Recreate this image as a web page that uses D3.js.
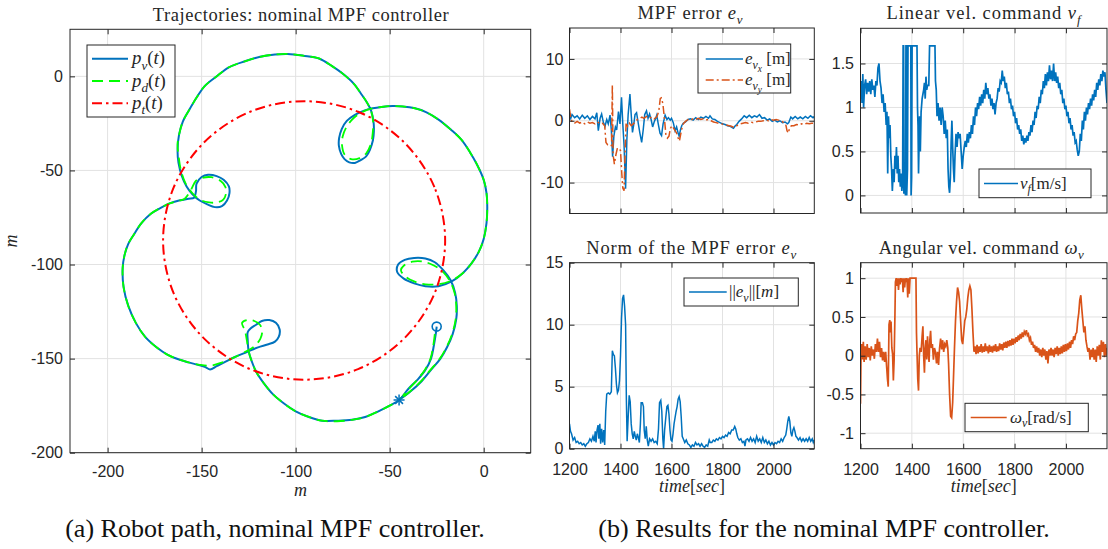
<!DOCTYPE html>
<html><head><meta charset="utf-8">
<script src="https://cdn.jsdelivr.net/npm/d3@7"></script>
<style>body{margin:0;background:#fff}svg{display:block}text{white-space:pre}</style>
</head><body>
<svg id="chart" width="1108" height="549"></svg>
<script>
// ---------------- DATA ----------------
// Robot path p_v(t) [x, y] in metres
const pathRobot = [
[-25,-133],[-25.5,-137],[-26.5,-143],[-28,-150],[-31,-156],[-35,-161],[-40,-166],[-45,-172],
[-50,-175],[-56,-178],[-63,-181],[-70,-182.5],[-78,-183],[-86,-183],[-93,-181],[-100,-178],[-106,-174],[-112,-169],[-117,-163],[-121,-157],[-123.5,-151],[-125,-146],[-125.5,-140],[-125.5,-136],[-124,-134],[-121,-132],[-118,-130],[-114,-129.5],[-110.5,-131],[-108.5,-134.5],[-109,-138.5],[-111,-141],[-115,-142.5],[-120,-144],[-126,-146.5],[-132,-149],[-138,-152],[-142,-154],[-145.5,-155.8],[-148,-154.5],[-152,-153.3],[-157,-152],[-162,-150.5],[-168,-148],[-174,-144],[-180,-138.5],[-185,-131],[-189,-122],[-191.5,-112],[-192,-102],[-191,-95],[-189,-89],[-186,-84],[-182,-78],[-177,-73],[-172,-70],[-167,-67.5],[-162,-66],[-157,-65],[-154,-64.5],[-153,-61],[-152.7,-57],[-150,-53.5],[-146.6,-52.3],[-142,-53],[-138.3,-55],[-135.5,-58.5],[-135.2,-62],[-136.5,-66],[-139.2,-69],[-143,-69.5],[-147,-68],[-151,-66],[-155,-62.5],[-158,-58.5],[-160.5,-53],[-162.3,-46],[-162.8,-39],[-162,-31],[-160,-24],[-156.7,-18],[-152.5,-11],[-148.5,-5.3],[-142,0],[-135.5,4.8],[-127,8],[-118.9,10.4],[-111,11.6],[-104.2,11.9],[-96,11],[-87.6,9.5],[-80,5],[-74.7,1.2],[-69,-4],[-65.4,-9],[-62,-14],[-59.9,-18.2],[-58.6,-24],[-58.4,-29.3],[-58.9,-34],[-60.5,-39],[-62.5,-42.5],[-65.4,-44.5],[-68.5,-46],[-71.5,-45.7],[-74,-44],[-75.8,-41.2],[-77,-37],[-76.9,-32.9],[-75.5,-28],[-72.8,-23.7],[-68.5,-20.5],[-63.6,-18.2],[-59,-17],[-54.4,-16.3],[-48.5,-15.8],[-43.3,-16],[-36.5,-17],[-30.4,-19.1],[-24,-23],[-17.5,-28.3],[-12,-33.5],[-7.3,-40.3],[-3.5,-47],[0,-55],[1.5,-62],[1.9,-69.8],[1.5,-78],[0,-86.4],[-2.5,-93],[-6.4,-99.3],[-11,-104.5],[-17,-109],[-24,-111.5],[-31,-111.5],[-37,-110],[-42.5,-107.5],[-46,-104],[-45.5,-100],[-42,-97.5],[-37,-96.5],[-31,-96.8],[-26,-98.8],[-21.5,-103],[-17.5,-108.5],[-15.2,-115],[-14.3,-122],[-14.6,-129],[-16.5,-137],[-19.5,-144],[-23,-150],[-28,-156],[-33,-162],[-39,-167.5],[-45,-172]
];
// Desired path p_d(t)
const pathDesired = [
[-26,-137],[-26.8,-143],[-28.3,-150],[-31.3,-156],[-35.3,-161.2],[-40.2,-166.5],[-45,-172],
[-50,-175],[-56,-178],[-63,-181],[-70,-182.5],[-78,-183.3],[-86,-183],[-93,-181],[-100,-178],[-106,-174],[-112,-169],[-117,-163],[-121,-157],[-123.5,-151],[-125,-146],[-126,-140],[-127,-135],[-128.5,-131],[-126,-129.5],[-122,-130],[-119,-132],[-117.8,-135.5],[-118.8,-139.5],[-122,-143.5],[-127,-146.5],[-133,-149.5],[-139,-152],[-145,-153.7],[-151,-153.3],[-157,-152],[-162,-150.5],[-168,-148],[-174,-144],[-180,-138.5],[-185,-131],[-189,-122],[-191.5,-112],[-192,-102],[-191,-95],[-189,-89],[-186,-84],[-182,-78],[-177,-73],[-172,-70],[-167,-67.5],[-162,-66],[-159,-65],[-155.5,-60],[-153,-55.5],[-149,-53.8],[-144.8,-53.6],[-140,-55.5],[-137.4,-58.7],[-137,-62],[-138.5,-65.5],[-142,-67],[-146,-67],[-151,-65.5],[-155,-62],[-158.5,-57],[-161,-50],[-162.3,-42],[-162.8,-36],[-162,-31],[-160,-24],[-156.7,-18],[-152.5,-11],[-148.5,-5.3],[-142,0],[-135.5,4.8],[-127,8],[-118.9,10.4],[-111,11.6],[-104.2,11.9],[-96,11],[-87.6,9.5],[-80,5],[-74.7,1.2],[-69,-4],[-65.4,-9],[-62,-14],[-59.9,-18.2],[-58.8,-24],[-59,-30],[-60,-36],[-62.5,-41],[-66,-43.5],[-70.5,-44],[-74,-41.5],[-75.3,-37],[-75,-32],[-73,-27],[-69,-22],[-63.6,-18.5],[-59,-17],[-54.4,-16.3],[-48.5,-15.8],[-43.3,-16],[-36.5,-17],[-30.4,-19.1],[-24,-23],[-17.5,-28.3],[-12,-33.5],[-7.3,-40.3],[-3.5,-47],[0,-55],[1.5,-62],[1.9,-69.8],[1.5,-78],[0,-86.4],[-2.5,-93],[-6.4,-99.3],[-11,-104.5],[-17,-108.5],[-24,-110.5],[-31,-110.5],[-37,-109],[-41.5,-106.5],[-44,-103],[-42.4,-100.5],[-38,-98.5],[-32.3,-98.4],[-26.5,-100.5],[-21.5,-104],[-17.8,-109],[-15.5,-115],[-14.6,-122],[-14.9,-129],[-16.8,-137],[-19.8,-144],[-23.3,-150],[-28.3,-156],[-33.3,-162],[-39.2,-167.5],[-45,-172]
];
// Target path p_t(t) (closed)
const pathTarget = [
[-20.5,-87.2],[-26.2,-58.9],[-42.5,-34.9],[-66.8,-18.8],[-95.5,-13.2],[-124.2,-18.8],[-148.5,-34.9],[-164.8,-58.9],
[-170.5,-87.2],[-164.8,-115.5],[-148.5,-139.5],[-124.2,-155.6],[-95.5,-161.2],[-66.8,-155.6],[-42.5,-139.5],[-26.2,-115.5]
];
const startPoint = [-25,-133];
const endPoint = [-45,-172];

// MPF error components [time s, value m]
const errVx = [[1200,1.2],[1205,0.4],[1210,1.0],[1220,0.5],[1230,0.8],[1240,0.3],[1250,0.9],[1260,0.4],[1270,0.8],[1280,0.2],[1290,0.7],[1300,0.3],[1307,1.3],[1313,-1.6],[1320,0.4],[1326,1.1],[1333,-0.3],[1339,-0.9],[1346,0.2],[1352,-0.5],[1359,0.9],[1364,-1.5],[1369,-5.8],[1374,-2.5],[1380,-1.0],[1385,-1.5],[1392,1.5],[1398,-0.5],[1404,3.8],[1409,-0.5],[1414,-4],[1420,-11],[1425,-3],[1430,1.0],[1437,4.3],[1442,1.0],[1447,-1.9],[1452,-0.6],[1457,1.0],[1463,1.3],[1470,-0.5],[1476,-2.0],[1483,-3.5],[1489,-1.5],[1495,1.0],[1502,1.6],[1508,0.4],[1514,1.1],[1520,0.2],[1526,-1.0],[1532,-0.2],[1537,0.3],[1542,0.9],[1548,-0.5],[1555,-2.0],[1561,-2.4],[1567,-0.5],[1575,0.9],[1582,0.2],[1588,0.5],[1595,0.1],[1600,0.4],[1607,-0.3],[1614,-1.6],[1620,-1.0],[1626,-2.0],[1630,-2.5],[1635,-1.5],[1640,-0.8],[1646,-0.4],[1655,-0.2],[1665,0.2],[1675,0.3],[1685,0.1],[1695,0.5],[1705,0.2],[1715,0.6],[1725,0.4],[1735,0.7],[1745,0.4],[1751,0.8],[1760,0.3],[1770,0.2],[1780,-0.1],[1790,-0.3],[1800,-0.5],[1810,-0.6],[1820,-0.8],[1830,-0.9],[1843,-1.2],[1850,-0.8],[1856,-0.6],[1865,-0.1],[1875,0.3],[1885,0.8],[1895,0.5],[1905,0.9],[1915,0.5],[1925,0.8],[1935,0.6],[1945,1.0],[1955,0.4],[1965,0.5],[1975,0.1],[1985,0.3],[1995,-0.1],[2005,0.1],[2015,-0.2],[2025,0.0],[2035,-0.3],[2045,-0.2],[2055,-0.5],[2060,-0.3],[2068,0.6],[2075,0.3],[2085,0.7],[2095,0.3],[2105,0.6],[2115,0.3],[2125,0.7],[2135,0.4],[2145,0.8],[2155,0.5],[2160,0.7]];
const errVy = [[1200,1.9],[1205,0.5],[1210,-0.2],[1220,-0.4],[1230,-0.1],[1240,-0.4],[1250,-0.2],[1260,-0.5],[1270,-0.2],[1280,-0.4],[1290,-0.3],[1300,-0.5],[1310,-0.2],[1320,-0.5],[1330,-0.4],[1338,-0.8],[1343,-3.5],[1350,-3.9],[1359,-4.1],[1365,-4.0],[1368,5.8],[1371,-5.5],[1376,-7.0],[1382,-5.5],[1388,-4.4],[1394,-4.5],[1400,-4.8],[1405,-8.5],[1409,-10.9],[1414,-11.3],[1418,-5],[1422,-0.3],[1428,-0.9],[1435,-0.4],[1442,-0.8],[1450,-0.5],[1458,-0.2],[1466,0.2],[1475,0.3],[1484,0.6],[1492,0.4],[1502,0.7],[1512,0.4],[1522,0.6],[1532,0.3],[1542,0.6],[1550,1.5],[1556,3.6],[1560,3.7],[1566,2.8],[1572,0.5],[1578,-2.3],[1584,-2.8],[1590,-2.5],[1596,-1.2],[1602,-0.8],[1608,-1.2],[1614,-1.6],[1620,-2.0],[1626,-2.8],[1631,-3.3],[1636,-2.2],[1641,-1.2],[1646,-0.5],[1655,-0.1],[1665,0.2],[1675,0.1],[1685,0.3],[1695,0.2],[1705,0.4],[1715,0.2],[1725,0.3],[1735,0.1],[1745,0.2],[1755,0.0],[1765,-0.2],[1775,-0.3],[1785,-0.4],[1795,-0.5],[1805,-0.6],[1815,-0.7],[1825,-0.8],[1835,-0.9],[1845,-1.1],[1852,-0.9],[1860,-0.7],[1870,-0.5],[1880,-0.4],[1890,-0.3],[1900,-0.4],[1910,-0.2],[1920,-0.3],[1930,-0.2],[1940,-0.1],[1950,-0.1],[1960,0.0],[1970,0.1],[1980,0.0],[1990,0.2],[2000,0.1],[2010,0.2],[2020,0.1],[2030,0.0],[2040,-0.3],[2048,-0.6],[2053,-1.6],[2058,-2.0],[2063,-1.2],[2070,-0.8],[2080,-0.8],[2090,-0.6],[2100,-0.7],[2110,-0.5],[2120,-0.6],[2130,-0.4],[2140,-0.5],[2150,-0.4],[2160,-0.4]];
// Norm of the MPF error
const errNorm = [[1200,2.0],[1204,1.4],[1208,1.2],[1214,0.7],[1220,0.9],[1226,0.5],[1232,0.6],[1238,0.4],[1244,0.5],[1250,0.3],[1256,0.4],[1262,0.2],[1268,0.4],[1274,0.5],[1280,0.8],[1286,0.6],[1292,1.0],[1297,0.6],[1301,1.4],[1304,0.5],[1308,1.5],[1312,1.9],[1315,0.8],[1319,2.0],[1322,0.4],[1326,1.6],[1330,0.5],[1334,1.5],[1338,0.3],[1342,3.0],[1346,4.4],[1352,4.5],[1358,4.4],[1364,4.6],[1368,7.9],[1372,7.6],[1376,7.5],[1380,6.5],[1384,5.2],[1388,4.5],[1392,4.7],[1396,5.5],[1400,7.5],[1404,10.5],[1408,12.1],[1412,12.4],[1416,11.5],[1420,10],[1423,4],[1426,0.6],[1430,2.5],[1434,4.3],[1438,3.8],[1442,2.0],[1446,1.2],[1450,0.8],[1454,1.4],[1458,1.0],[1462,0.7],[1466,1.2],[1470,0.9],[1474,0.5],[1478,2.0],[1481,3.7],[1486,3.7],[1490,3.4],[1493,1.5],[1497,0.8],[1501,1.8],[1505,0.7],[1509,0.2],[1514,0.8],[1520,0.6],[1526,0.8],[1532,0.5],[1538,0.6],[1544,0.4],[1549,1.6],[1553,3.7],[1558,3.9],[1562,3.0],[1566,0.8],[1569,0.0],[1573,1.5],[1578,2.6],[1582,3.4],[1586,3.5],[1590,2.8],[1594,1.5],[1598,0.7],[1602,0.6],[1606,1.2],[1610,2.0],[1614,2.5],[1618,3.0],[1622,3.4],[1626,4.0],[1630,4.2],[1634,3.8],[1638,2.6],[1642,1.0],[1646,0.8],[1652,0.5],[1658,0.7],[1664,0.4],[1670,0.3],[1676,0.1],[1682,0.3],[1688,0.2],[1694,0.5],[1700,0.3],[1706,0.4],[1712,0.2],[1718,0.4],[1724,0.2],[1730,0.1],[1736,0.3],[1742,0.2],[1748,0.7],[1752,0.5],[1758,0.5],[1764,0.7],[1770,0.6],[1776,0.8],[1782,0.7],[1788,0.9],[1794,0.8],[1800,1.0],[1806,0.9],[1812,1.1],[1818,1.0],[1824,1.3],[1830,1.2],[1836,1.5],[1842,1.5],[1848,1.8],[1852,1.6],[1856,1.2],[1860,0.9],[1866,0.7],[1872,0.8],[1878,0.5],[1884,0.6],[1888,0.2],[1892,0.7],[1898,0.8],[1904,0.6],[1910,0.9],[1916,0.6],[1922,0.8],[1928,0.5],[1934,1.0],[1940,0.6],[1946,0.8],[1952,0.5],[1958,0.9],[1964,0.5],[1970,0.7],[1976,0.4],[1982,0.6],[1988,0.3],[1994,0.5],[2000,0.3],[2006,0.5],[2012,0.4],[2018,0.6],[2024,0.5],[2030,0.8],[2036,0.6],[2042,0.9],[2048,1.1],[2052,1.6],[2056,2.2],[2060,2.6],[2064,2.2],[2068,1.3],[2072,1.0],[2076,1.5],[2080,1.7],[2084,1.4],[2088,1.0],[2092,0.9],[2098,0.7],[2104,0.9],[2110,0.6],[2116,0.8],[2122,0.6],[2128,0.8],[2134,0.6],[2140,0.9],[2146,0.6],[2152,0.8],[2156,0.5],[2160,0.7]];
// Linear velocity command v_f [m/s]
const velLinear = [[1200,1.15],[1203,1.3],[1206,1.05],[1209,1.38],[1212,1.0],[1216,1.25],[1220,1.32],[1224,1.15],[1228,1.28],[1232,1.18],[1236,1.3],[1240,1.15],[1244,1.32],[1248,1.2],[1252,1.25],[1256,1.12],[1260,1.3],[1264,1.25],[1268,1.45],[1272,1.5],[1276,1.3],[1280,1.22],[1284,1.05],[1288,1.15],[1292,0.95],[1296,1.05],[1300,0.8],[1303,0.95],[1306,0.25],[1309,0.9],[1312,0.65],[1315,0.8],[1318,0.45],[1321,0.3],[1324,0.05],[1328,0.3],[1331,0.15],[1334,0.45],[1337,0.3],[1340,0.55],[1343,0.25],[1346,0.45],[1349,0.15],[1352,0.3],[1355,0.1],[1358,0.25],[1361,0.05],[1364,0.15],[1366,1.7],[1368,1.7],[1369,0.02],[1372,0.2],[1375,0.0],[1377,1.7],[1379,1.7],[1380,0.0],[1383,0.3],[1385,1.7],[1396,1.7],[1397,0.0],[1399,0.2],[1401,1.7],[1420,1.7],[1422,1.0],[1424,0.8],[1426,0.25],[1430,0.9],[1433,0.5],[1436,0.95],[1440,1.1],[1443,1.15],[1446,1.2],[1449,1.28],[1452,1.1],[1455,1.35],[1458,1.2],[1461,1.25],[1466,1.25],[1469,1.7],[1490,1.7],[1492,1.3],[1495,1.2],[1498,0.9],[1502,1.05],[1506,0.85],[1510,1.0],[1514,0.8],[1518,1.0],[1522,0.9],[1526,0.7],[1530,0.85],[1534,0.65],[1538,0.75],[1541,0.3],[1544,0.1],[1547,0.03],[1550,0.2],[1553,0.6],[1556,0.85],[1559,0.55],[1562,0.3],[1565,0.15],[1568,0.45],[1572,0.7],[1576,0.55],[1580,0.72],[1584,0.65],[1588,0.7],[1592,0.5],[1596,0.3],[1600,0.45],[1604,0.55],[1608,0.62],[1612,0.55],[1616,0.7],[1620,0.6],[1624,0.72],[1628,0.65],[1632,0.8],[1636,0.7],[1640,0.9],[1644,0.8],[1648,1.0],[1652,0.9],[1656,1.05],[1660,0.98],[1664,1.12],[1668,1.02],[1672,1.15],[1676,1.05],[1680,1.2],[1684,1.1],[1688,1.28],[1692,1.15],[1696,1.22],[1700,1.1],[1704,1.15],[1708,1.02],[1712,1.1],[1716,0.98],[1720,1.05],[1724,0.92],[1728,1.05],[1732,1.1],[1736,1.22],[1740,1.18],[1744,1.3],[1748,1.28],[1752,1.42],[1756,1.3],[1760,1.35],[1764,1.22],[1768,1.28],[1772,1.15],[1776,1.18],[1780,1.05],[1784,1.1],[1788,0.98],[1792,1.02],[1796,0.9],[1800,0.95],[1804,0.82],[1808,0.88],[1812,0.75],[1816,0.8],[1820,0.7],[1824,0.75],[1828,0.62],[1832,0.68],[1836,0.58],[1840,0.65],[1844,0.6],[1848,0.68],[1852,0.62],[1856,0.72],[1860,0.68],[1864,0.8],[1868,0.72],[1872,0.85],[1876,0.8],[1880,0.95],[1884,0.88],[1888,1.02],[1892,0.98],[1896,1.12],[1900,1.05],[1904,1.2],[1908,1.15],[1912,1.3],[1916,1.22],[1920,1.38],[1924,1.25],[1928,1.4],[1932,1.3],[1936,1.48],[1940,1.32],[1944,1.42],[1948,1.3],[1952,1.5],[1956,1.3],[1960,1.4],[1964,1.28],[1968,1.35],[1972,1.22],[1976,1.28],[1980,1.15],[1984,1.2],[1988,1.05],[1992,1.1],[1996,0.98],[2000,1.02],[2004,0.9],[2008,0.95],[2012,0.82],[2016,0.88],[2020,0.75],[2024,0.8],[2028,0.68],[2032,0.72],[2036,0.6],[2040,0.62],[2044,0.52],[2048,0.45],[2052,0.5],[2056,0.7],[2060,0.62],[2064,0.85],[2068,0.75],[2072,0.95],[2076,0.85],[2080,1.0],[2084,0.92],[2088,1.05],[2092,0.98],[2096,1.1],[2100,1.02],[2104,1.15],[2108,1.08],[2112,1.2],[2116,1.12],[2120,1.28],[2124,1.2],[2128,1.32],[2132,1.25],[2136,1.38],[2140,1.3],[2144,1.42],[2148,1.35],[2152,1.4],[2156,1.2],[2160,1.05]];
// Angular velocity command omega_v [rad/s]
const velAngular = [[1200,-0.62],[1202,0.0],[1205,0.15],[1208,-0.05],[1211,0.18],[1214,-0.08],[1218,0.12],[1222,-0.05],[1226,0.15],[1230,-0.02],[1234,0.1],[1238,-0.06],[1242,0.12],[1246,0.0],[1250,0.08],[1254,-0.04],[1258,0.15],[1262,0.05],[1266,0.22],[1270,0.05],[1274,0.18],[1278,-0.02],[1282,0.1],[1286,-0.06],[1290,0.05],[1294,-0.08],[1298,0.05],[1302,-0.15],[1305,-0.3],[1308,-0.4],[1311,0.4],[1314,0.46],[1317,0.3],[1319,0.44],[1322,0.1],[1325,0.02],[1328,-0.32],[1331,-0.05],[1334,0.5],[1336,0.95],[1339,1.0],[1342,0.9],[1345,1.0],[1348,0.85],[1351,1.0],[1354,0.92],[1357,1.0],[1360,0.95],[1363,1.0],[1366,0.82],[1369,1.0],[1372,0.88],[1375,1.0],[1378,0.95],[1381,1.0],[1384,0.75],[1387,1.0],[1390,0.8],[1393,1.0],[1400,1.0],[1410,1.0],[1416,1.0],[1418,0.3],[1420,0.05],[1423,-0.3],[1426,-0.45],[1429,0.0],[1432,0.1],[1436,0.05],[1440,0.25],[1443,0.38],[1446,0.0],[1449,-0.22],[1452,0.1],[1455,0.2],[1458,-0.05],[1461,0.25],[1464,0.05],[1467,-0.08],[1470,0.2],[1473,0.32],[1476,0.1],[1480,0.15],[1484,-0.05],[1488,0.1],[1492,0.05],[1496,-0.1],[1500,0.05],[1504,-0.12],[1508,0.1],[1512,0.22],[1516,0.08],[1520,0.2],[1524,0.05],[1528,0.15],[1532,0.12],[1536,0.2],[1540,0.1],[1543,-0.1],[1547,-0.5],[1551,-0.78],[1555,-0.8],[1559,-0.6],[1562,-0.3],[1566,0.1],[1570,0.45],[1574,0.7],[1578,0.88],[1582,0.82],[1586,0.7],[1590,0.45],[1594,0.2],[1598,0.15],[1602,0.3],[1606,0.45],[1610,0.5],[1614,0.6],[1618,0.75],[1622,0.85],[1626,0.9],[1630,0.85],[1634,0.6],[1638,0.3],[1642,0.05],[1646,0.12],[1650,0.02],[1654,0.14],[1658,0.03],[1662,0.12],[1666,0.05],[1670,0.15],[1674,0.04],[1678,0.12],[1682,0.05],[1686,0.16],[1690,0.06],[1694,0.12],[1698,0.03],[1702,0.14],[1706,0.05],[1710,0.12],[1714,0.04],[1718,0.13],[1722,0.06],[1726,0.15],[1730,0.05],[1734,0.12],[1738,0.06],[1742,0.16],[1746,0.08],[1750,0.15],[1754,0.07],[1758,0.17],[1762,0.1],[1766,0.18],[1770,0.1],[1774,0.19],[1778,0.12],[1782,0.2],[1786,0.13],[1790,0.22],[1794,0.14],[1798,0.22],[1802,0.16],[1806,0.24],[1810,0.18],[1814,0.26],[1818,0.2],[1822,0.28],[1826,0.22],[1830,0.3],[1834,0.24],[1838,0.31],[1842,0.28],[1846,0.33],[1850,0.26],[1854,0.28],[1858,0.2],[1862,0.23],[1866,0.14],[1870,0.18],[1874,0.1],[1878,0.14],[1882,0.05],[1886,0.12],[1890,0.04],[1894,0.1],[1898,0.0],[1902,0.08],[1906,-0.02],[1910,0.1],[1914,0.0],[1918,0.08],[1922,-0.05],[1926,0.06],[1930,-0.1],[1934,0.08],[1938,0.0],[1942,0.1],[1946,0.0],[1950,0.08],[1954,-0.02],[1958,0.1],[1962,0.02],[1966,0.12],[1970,0.0],[1974,0.1],[1978,0.02],[1982,0.12],[1986,0.03],[1990,0.14],[1994,0.05],[1998,0.15],[2002,0.06],[2006,0.16],[2010,0.08],[2014,0.18],[2018,0.1],[2022,0.2],[2026,0.15],[2030,0.25],[2034,0.2],[2038,0.28],[2042,0.3],[2046,0.45],[2050,0.55],[2054,0.72],[2058,0.78],[2062,0.6],[2066,0.45],[2070,0.3],[2074,0.38],[2078,0.2],[2082,0.12],[2086,0.05],[2090,0.1],[2094,-0.05],[2098,0.08],[2102,-0.02],[2106,0.1],[2110,-0.05],[2114,0.08],[2118,-0.08],[2122,0.12],[2126,0.0],[2130,0.14],[2134,-0.05],[2138,0.2],[2142,0.05],[2146,0.18],[2150,-0.02],[2154,0.15],[2158,0.0],[2160,0.1]];

// Ticks
const trajTicksX = [-200,-150,-100,-50,0];
const trajTicksY = [-200,-150,-100,-50,0];
const timeTicks = [1200,1400,1600,1800,2000];
const errTicks = [-10,0,10];
const normTicks = [0,5,10,15];
const vfTicks = [0,0.5,1,1.5];
const wTicks = [-1,-0.5,0,0.5,1];

// ---------------- STYLE ----------------
const SANS = "'Liberation Sans', Arial, Helvetica, sans-serif";
const SERIF = "'Liberation Serif', 'Times New Roman', serif";
const TXT = "#262626";
const GRID = "#e2e2e2";
const BLUE = "#0072BD", ORANGE = "#D95319", GREEN = "#00FF00", RED = "#FF0000";

const svg = d3.select('#chart');
let clipId = 0;

function mathText(parent, x, y, parts, size, anchor) {
  const t = parent.append('text').attr('x', x).attr('y', y)
    .attr('text-anchor', anchor || 'start')
    .style('font-family', SERIF).style('font-size', size + 'px').attr('fill', TXT);
  let cur = 0;
  for (const p of parts) {
    const l = p.l || 0;
    const off = [0, 0.28 * size, 0.46 * size][l];
    const fs = [1, 0.7, 0.55][l] * size;
    t.append('tspan').attr('dy', (off - cur).toFixed(2))
      .style('font-size', fs + 'px').style('font-style', p.i ? 'italic' : 'normal').text(p.t);
    cur = off;
  }
  return t;
}
function fitWidth(t, target) {
  const w = t.node().getComputedTextLength();
  const n = t.text().length;
  if (n > 1) t.style('letter-spacing', ((target - w) / (n - 1)).toFixed(3) + 'px');
}

function panel(c) {
  const x = d3.scaleLinear().domain(c.xd).range([c.x0, c.x1]);
  const y = d3.scaleLinear().domain(c.yd).range([c.y1, c.y0]);
  const g = svg.append('g');
  g.append('g').selectAll('line').data(c.xt).join('line')
    .attr('x1', d => x(d)).attr('x2', d => x(d)).attr('y1', c.y0).attr('y2', c.y1)
    .attr('stroke', GRID).attr('stroke-width', 1);
  g.append('g').selectAll('line').data(c.yt).join('line')
    .attr('y1', d => y(d)).attr('y2', d => y(d)).attr('x1', c.x0).attr('x2', c.x1)
    .attr('stroke', GRID).attr('stroke-width', 1);
  const id = 'clip' + (clipId++);
  g.append('clipPath').attr('id', id).append('rect')
    .attr('x', c.x0).attr('y', c.y0).attr('width', c.x1 - c.x0).attr('height', c.y1 - c.y0);
  const data = g.append('g').attr('clip-path', `url(#${id})`);
  const over = svg.append('g');
  return {x, y, g, data, over, c};
}
function finishAxes(p) {
  const {x, y, over, c} = p;
  const fmt = d => String(d);
  const styleAx = sel => {
    sel.select('.domain').remove();
    sel.selectAll('.tick line').attr('stroke', TXT).attr('stroke-width', 1);
    sel.selectAll('.tick text').attr('fill', TXT).style('font-family', SANS).style('font-size', '16px');
  };
  over.append('g').attr('transform', `translate(0,${c.y1})`)
    .call(d3.axisBottom(x).tickValues(c.xt).tickSizeInner(-5).tickSizeOuter(0).tickPadding(c.xPad)
      .tickFormat(c.xLabels ? fmt : () => '')).call(styleAx);
  over.append('g').attr('transform', `translate(0,${c.y0})`)
    .call(d3.axisTop(x).tickValues(c.xt).tickSizeInner(-5).tickSizeOuter(0).tickFormat(() => '')).call(styleAx);
  over.append('g').attr('transform', `translate(${c.x0},0)`)
    .call(d3.axisLeft(y).tickValues(c.yt).tickSizeInner(-5).tickSizeOuter(0).tickPadding(c.yPad).tickFormat(fmt)).call(styleAx);
  over.append('g').attr('transform', `translate(${c.x1},0)`)
    .call(d3.axisRight(y).tickValues(c.yt).tickSizeInner(-5).tickSizeOuter(0).tickFormat(() => '')).call(styleAx);
  over.append('rect').attr('x', c.x0).attr('y', c.y0).attr('width', c.x1 - c.x0).attr('height', c.y1 - c.y0)
    .attr('fill', 'none').attr('stroke', TXT).attr('stroke-width', 1);
}
function legend(p, box, items, lx0, lx1, tx, size) {
  const g = svg.append('g');
  g.append('rect').attr('x', box[0]).attr('y', box[1]).attr('width', box[2]).attr('height', box[3])
    .attr('fill', '#fff').attr('stroke', TXT).attr('stroke-width', 1);
  for (const it of items) {
    g.append('line').attr('x1', lx0).attr('x2', lx1).attr('y1', it.y).attr('y2', it.y)
      .attr('stroke', it.color).attr('stroke-width', it.w || 1.5).attr('stroke-dasharray', it.dash || null);
    mathText(g, tx, it.y + size * 0.3, it.parts, size);
  }
}

// ---------------- LEFT PANEL: trajectories ----------------
const P0 = panel({x0: 70, x1: 530.7, y0: 29.3, y1: 452.7, xd: [-220, 25], yd: [-200, 25],
  xt: trajTicksX, yt: trajTicksY, xLabels: true, xPad: 12.5, yPad: 7});
const trajLine = d3.line().x(d => P0.x(d[0])).y(d => P0.y(d[1])).curve(d3.curveCatmullRom.alpha(0.5));
P0.data.append('path').attr('d', trajLine(pathRobot)).attr('fill', 'none').attr('stroke', BLUE).attr('stroke-width', 2);
P0.data.append('path').attr('d', trajLine(pathDesired)).attr('fill', 'none').attr('stroke', GREEN).attr('stroke-width', 1.8).attr('stroke-dasharray', '11,6');
const circLine = d3.line().x(d => P0.x(d[0])).y(d => P0.y(d[1])).curve(d3.curveCatmullRomClosed.alpha(0.5));
P0.data.append('path').attr('d', circLine(pathTarget)).attr('fill', 'none').attr('stroke', RED).attr('stroke-width', 2).attr('stroke-dasharray', '10,4,2.5,4');
P0.data.append('circle').attr('cx', P0.x(startPoint[0])).attr('cy', P0.y(startPoint[1])).attr('r', 4.5)
  .attr('fill', 'none').attr('stroke', BLUE).attr('stroke-width', 1.6);
{
  const cx = P0.x(endPoint[0]), cy = P0.y(endPoint[1]), r = 5.5;
  const star = P0.data.append('g').attr('stroke', BLUE).attr('stroke-width', 1.5);
  [0, 45, 90, 135].forEach(a => {
    const dx = r * Math.cos(a * Math.PI / 180), dy = r * Math.sin(a * Math.PI / 180);
    star.append('line').attr('x1', cx - dx).attr('y1', cy - dy).attr('x2', cx + dx).attr('y2', cy + dy);
  });
}
finishAxes(P0);
legend(P0, [87, 45, 88, 72], [
  {y: 58.7, color: BLUE, w: 2, parts: [{t: 'p', i: 1}, {t: 'v', i: 1, l: 1}, {t: '('}, {t: 't', i: 1}, {t: ')'}]},
  {y: 81, color: GREEN, w: 1.8, dash: '11,6', parts: [{t: 'p', i: 1}, {t: 'd', i: 1, l: 1}, {t: '('}, {t: 't', i: 1}, {t: ')'}]},
  {y: 103.3, color: RED, w: 2, dash: '10,4,2.5,4', parts: [{t: 'p', i: 1}, {t: 't', i: 1, l: 1}, {t: '('}, {t: 't', i: 1}, {t: ')'}]}
], 92, 128, 132, 18.8);
fitWidth(mathText(svg, 301, 21, [{t: 'Trajectories: nominal MPF controller'}], 18.5, 'middle'), 296);
mathText(svg, 300.4, 496, [{t: 'm', i: 1}], 18, 'middle');
mathText(svg, 0, 0, [{t: 'm', i: 1}], 18, 'middle').attr('transform', 'translate(17,241) rotate(-90)');

// ---------------- RIGHT PANELS ----------------
const tsLine = p => d3.line().x(d => p.x(d[0])).y(d => p.y(d[1]));
// Top-left: MPF error components
const P1 = panel({x0: 569.5, x1: 814.3, y0: 28, y1: 213.5, xd: [1200, 2160], yd: [-15, 15],
  xt: timeTicks, yt: errTicks, xLabels: false, xPad: 14.6, yPad: 6});
P1.data.append('path').attr('d', tsLine(P1)(errVx)).attr('fill', 'none').attr('stroke', BLUE).attr('stroke-width', 1.5);
P1.data.append('path').attr('d', tsLine(P1)(errVy)).attr('fill', 'none').attr('stroke', ORANGE).attr('stroke-width', 1.5).attr('stroke-dasharray', '8,3,2,3');
finishAxes(P1);
legend(P1, [698, 44, 92.7, 49], [
  {y: 59, color: BLUE, w: 1.5, parts: [{t: 'e', i: 1}, {t: 'v', i: 1, l: 1}, {t: 'x', i: 1, l: 2}, {t: ' [m]'}]},
  {y: 80, color: ORANGE, w: 1.5, dash: '8,3,2,3', parts: [{t: 'e', i: 1}, {t: 'v', i: 1, l: 1}, {t: 'y', i: 1, l: 2}, {t: ' [m]'}]}
], 705.7, 743, 745, 17);
fitWidth(mathText(svg, 690.5, 19, [{t: 'MPF error '}, {t: 'e', i: 1}, {t: 'v', i: 1, l: 1}], 18.5, 'middle'), 105);

// Top-right: linear velocity
const P2 = panel({x0: 860.5, x1: 1107, y0: 28.3, y1: 213, xd: [1200, 2160], yd: [-0.2, 1.9],
  xt: timeTicks, yt: vfTicks, xLabels: false, xPad: 14.6, yPad: 6.5});
P2.data.append('path').attr('d', tsLine(P2)(velLinear)).attr('fill', 'none').attr('stroke', BLUE).attr('stroke-width', 1.7);
finishAxes(P2);
legend(P2, [979, 169, 112, 28.7], [
  {y: 183.5, color: BLUE, w: 1.5, parts: [{t: 'v', i: 1}, {t: 'f', i: 1, l: 1}, {t: '[m/s]'}]}
], 984, 1018, 1020, 17);
fitWidth(mathText(svg, 984, 19, [{t: 'Linear vel. command '}, {t: 'v', i: 1}, {t: 'f', i: 1, l: 1}], 18.5, 'middle'), 194);

// Bottom-left: norm
const P3 = panel({x0: 569.5, x1: 814.3, y0: 262.7, y1: 448.7, xd: [1200, 2160], yd: [0, 15],
  xt: timeTicks, yt: normTicks, xLabels: true, xPad: 14.6, yPad: 6});
P3.data.append('path').attr('d', tsLine(P3)(errNorm)).attr('fill', 'none').attr('stroke', BLUE).attr('stroke-width', 1.5);
finishAxes(P3);
legend(P3, [684, 278, 114.3, 28], [
  {y: 292, color: BLUE, w: 1.5, parts: [{t: '||'}, {t: 'e', i: 1}, {t: 'v', i: 1, l: 1}, {t: '||['}, {t: 'm', i: 1}, {t: ']'}]}
], 689, 726.7, 729, 17);
fitWidth(mathText(svg, 691.7, 254, [{t: 'Norm of the MPF error '}, {t: 'e', i: 1}, {t: 'v', i: 1, l: 1}], 18.5, 'middle'), 210);
mathText(svg, 691.9, 492, [{t: 'time', i: 1}, {t: '['}, {t: 'sec', i: 1}, {t: ']'}], 18, 'middle');

// Bottom-right: angular velocity
const P4 = panel({x0: 860.5, x1: 1107, y0: 262.7, y1: 448.7, xd: [1200, 2160], yd: [-1.2, 1.2],
  xt: timeTicks, yt: wTicks, xLabels: true, xPad: 14.6, yPad: 6.5});
P4.data.append('path').attr('d', tsLine(P4)(velAngular)).attr('fill', 'none').attr('stroke', ORANGE).attr('stroke-width', 1.7);
finishAxes(P4);
legend(P4, [965, 403.3, 123.3, 28.4], [
  {y: 417.5, color: ORANGE, w: 1.5, parts: [{t: 'ω', i: 1}, {t: 'v', i: 1, l: 1}, {t: '[rad/s]'}]}
], 970.7, 1006.7, 1010, 17);
fitWidth(mathText(svg, 981.5, 254, [{t: 'Angular vel. command '}, {t: 'ω', i: 1}, {t: 'v', i: 1, l: 1}], 18.5, 'middle'), 205);
mathText(svg, 983.7, 492, [{t: 'time', i: 1}, {t: '['}, {t: 'sec', i: 1}, {t: ']'}], 18, 'middle');

// ---------------- CAPTIONS ----------------
svg.append('text').attr('x', 275).attr('y', 537).attr('text-anchor', 'middle')
  .style('font-family', SERIF).style('font-size', '26px').attr('fill', '#111')
  .text('(a) Robot path, nominal MPF controller.');
svg.append('text').attr('x', 824).attr('y', 537).attr('text-anchor', 'middle')
  .style('font-family', SERIF).style('font-size', '26px').attr('fill', '#111')
  .text('(b) Results for the nominal MPF controller.');
</script>
</body></html>
